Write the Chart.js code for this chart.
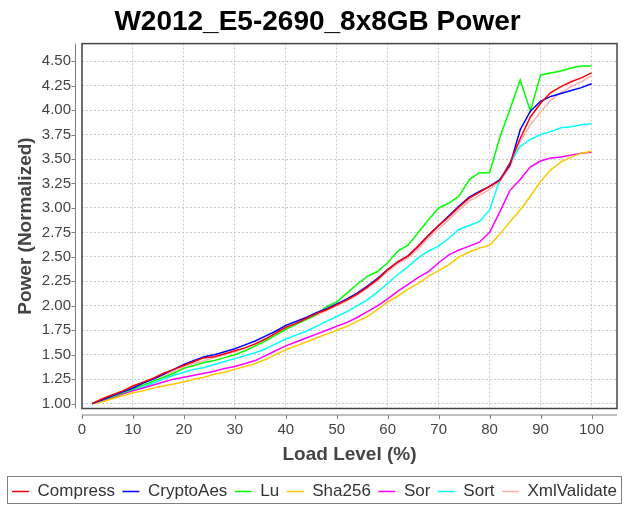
<!DOCTYPE html>
<html>
<head>
<meta charset="utf-8">
<script src="https://cdn.jsdelivr.net/npm/chart.js@4.4.1/dist/chart.umd.min.js"></script>
<style>
  html, body { margin: 0; padding: 0; background: #fff; }
</style>
</head>
<body>
<canvas id="chart" width="629" height="505"></canvas>
<script>
const loadLevels = [2, 4, 6, 8, 10, 12, 14, 16, 18, 20, 22, 24, 26, 28, 30, 32, 34, 36, 38, 40,
    42, 44, 46, 48, 50, 52, 54, 56, 58, 60, 62, 64, 66, 68, 70, 72, 74, 76, 78, 80,
    82, 84, 86, 88, 90, 92, 94, 96, 98, 100];

const compress = [1.00, 1.05, 1.09, 1.13, 1.18, 1.22, 1.26, 1.31, 1.35, 1.39, 1.43, 1.47, 1.48, 1.51, 1.54, 1.57, 1.61, 1.66, 1.72, 1.78,
    1.82, 1.87, 1.92, 1.96, 2.01, 2.06, 2.12, 2.19, 2.27, 2.37, 2.45, 2.51, 2.61, 2.72, 2.82, 2.91, 3.01, 3.10, 3.16, 3.22,
    3.28, 3.46, 3.71, 3.93, 4.07, 4.18, 4.24, 4.29, 4.33, 4.38];
const cryptoAes = [1.00, 1.04, 1.08, 1.12, 1.16, 1.21, 1.25, 1.30, 1.35, 1.40, 1.44, 1.48, 1.50, 1.53, 1.56, 1.60, 1.64, 1.69, 1.74, 1.80,
    1.84, 1.88, 1.93, 1.97, 2.02, 2.07, 2.13, 2.20, 2.28, 2.37, 2.45, 2.51, 2.61, 2.72, 2.82, 2.92, 3.02, 3.11, 3.17, 3.22,
    3.29, 3.44, 3.80, 3.99, 4.09, 4.14, 4.17, 4.20, 4.23, 4.27];
const lu = [1.00, 1.04, 1.07, 1.11, 1.15, 1.19, 1.23, 1.27, 1.31, 1.36, 1.39, 1.42, 1.44, 1.47, 1.50, 1.54, 1.59, 1.64, 1.70, 1.76,
    1.81, 1.86, 1.91, 1.99, 2.04, 2.13, 2.22, 2.30, 2.35, 2.44, 2.56, 2.62, 2.75, 2.88, 3.00, 3.05, 3.12, 3.29, 3.36, 3.36,
    3.72, 4.01, 4.31, 3.99, 4.36, 4.38, 4.40, 4.43, 4.45, 4.45];
const sha256 = [1.00, 1.02, 1.05, 1.08, 1.11, 1.13, 1.16, 1.18, 1.20, 1.22, 1.25, 1.27, 1.30, 1.32, 1.35, 1.38, 1.41, 1.45, 1.50, 1.55,
    1.59, 1.63, 1.67, 1.71, 1.75, 1.79, 1.84, 1.89, 1.96, 2.04, 2.10, 2.17, 2.23, 2.30, 2.36, 2.42, 2.50, 2.55, 2.59, 2.62,
    2.73, 2.86, 2.98, 3.12, 3.27, 3.39, 3.47, 3.52, 3.56, 3.58];
const sor = [1.00, 1.03, 1.06, 1.10, 1.13, 1.16, 1.19, 1.22, 1.25, 1.27, 1.29, 1.31, 1.33, 1.36, 1.38, 1.41, 1.44, 1.49, 1.54, 1.59,
    1.63, 1.67, 1.71, 1.75, 1.79, 1.83, 1.88, 1.94, 2.00, 2.07, 2.15, 2.22, 2.29, 2.35, 2.44, 2.52, 2.57, 2.61, 2.65, 2.75,
    2.96, 3.18, 3.29, 3.42, 3.48, 3.51, 3.52, 3.54, 3.56, 3.57];
const sort = [1.00, 1.03, 1.07, 1.10, 1.14, 1.17, 1.21, 1.25, 1.29, 1.32, 1.35, 1.37, 1.40, 1.43, 1.46, 1.49, 1.52, 1.56, 1.61, 1.66,
    1.70, 1.74, 1.79, 1.84, 1.89, 1.94, 2.00, 2.06, 2.14, 2.23, 2.32, 2.40, 2.49, 2.56, 2.61, 2.69, 2.78, 2.82, 2.86, 2.98,
    3.29, 3.46, 3.63, 3.70, 3.75, 3.78, 3.82, 3.83, 3.85, 3.86];
const xmlValidate = [1.00, 1.04, 1.08, 1.12, 1.17, 1.21, 1.25, 1.29, 1.33, 1.37, 1.41, 1.44, 1.47, 1.50, 1.53, 1.57, 1.61, 1.66, 1.71, 1.76,
    1.81, 1.86, 1.90, 1.95, 2.00, 2.05, 2.11, 2.18, 2.26, 2.35, 2.43, 2.49, 2.58, 2.69, 2.79, 2.88, 2.98, 3.07, 3.13, 3.19,
    3.27, 3.42, 3.68, 3.85, 3.98, 4.10, 4.18, 4.24, 4.29, 4.35];

const xTicks = [0, 10, 20, 30, 40, 50, 60, 70, 80, 90, 100];
const yTicks = [1.00, 1.25, 1.50, 1.75, 2.00, 2.25, 2.50, 2.75, 3.00, 3.25, 3.50, 3.75, 4.00, 4.25, 4.50];

const font = "'Liberation Sans', Arial, sans-serif";
Chart.defaults.font.family = font;

const series = [
    ["Compress", compress, "#ff0000"],
    ["CryptoAes", cryptoAes, "#0000ff"],
    ["Lu", lu, "#00ff00"],
    ["Sha256", sha256, "#ffc800"],
    ["Sor", sor, "#ff00ff"],
    ["Sort", sort, "#00ffff"],
    ["XmlValidate", xmlValidate, "#ffafaf"],
];

// plot outline, offset axis lines and the legend box
const decorations = {
    id: "decorations",
    afterLayout(chart) {
        const t = chart.titleBlock;
        t.left += 3;
        t.right += 3;
        const lg = chart.legend;
        lg.top += 5;
        lg.bottom += 5;
        lg.legendHitBoxes.forEach((h) => { h.top += 5; });
    },
    afterDraw(chart) {
        const c = chart.ctx;
        const a = chart.chartArea;
        const xs = chart.scales.x;
        const ys = chart.scales.y;
        c.save();
        c.strokeStyle = "#808080";
        c.lineWidth = 1;
        c.beginPath();
        const ax = a.left - 6.5;
        c.moveTo(ax, a.top);
        c.lineTo(ax, a.bottom);
        yTicks.forEach((v) => {
            const p = Math.round(ys.getPixelForValue(v)) + 0.5;
            c.moveTo(ax, p);
            c.lineTo(ax - 4, p);
        });
        const ay = a.bottom + 6.5;
        c.moveTo(a.left, ay);
        c.lineTo(a.right, ay);
        xTicks.forEach((v) => {
            const p = Math.round(xs.getPixelForValue(v)) + 0.5;
            c.moveTo(p, ay);
            c.lineTo(p, ay + 4);
        });
        c.stroke();

        c.strokeStyle = "#444";
        c.lineWidth = 1.5;
        c.strokeRect(a.left, a.top, a.right - a.left, a.bottom - a.top);

        const hb = chart.legend.legendHitBoxes;
        const last = hb[hb.length - 1];
        c.strokeStyle = "#808080";
        c.lineWidth = 1;
        const l = Math.round(hb[0].left) - 4.5;
        const r = Math.round(last.left + last.width) + 4.5;
        const top = Math.round(hb[0].top) - 11.5;
        c.strokeRect(l, top, r - l, 27);
        c.restore();
    },
};

new Chart(document.getElementById("chart"), {
    type: "line",
    data: {
        datasets: series.map(([label, values, color]) => ({
            label,
            data: values.map((y, i) => ({ x: loadLevels[i], y })),
            borderColor: color,
            backgroundColor: color,
            borderWidth: 1.5,
            pointRadius: 0,
            tension: 0,
            fill: false,
        })),
    },
    options: {
        responsive: false,
        animation: false,
        devicePixelRatio: 1,
        layout: { padding: 0 },
        scales: {
            x: {
                type: "linear",
                min: 0,
                max: 105,
                afterBuildTicks: (s) => { s.ticks = xTicks.map((v) => ({ value: v })); },
                afterFit: (s) => { s.height = 62; },
                grid: { color: "#c8c8c8", lineWidth: 1, drawTicks: false },
                border: { display: false, dash: [2, 2] },
                ticks: { color: "#444", font: { size: 15 }, padding: 12, maxRotation: 0 },
                title: {
                    display: true,
                    text: "Load Level (%)",
                    color: "#444",
                    font: { size: 19, weight: "bold" },
                    padding: { top: 0, bottom: 4 },
                },
            },
            y: {
                type: "linear",
                min: 0.95,
                max: 4.68,
                afterBuildTicks: (s) => { s.ticks = yTicks.map((v) => ({ value: v })); },
                afterFit: (s) => { s.width = 82; },
                grid: { color: "#c8c8c8", lineWidth: 1, drawTicks: false },
                border: { display: false, dash: [2, 2] },
                ticks: { color: "#444", font: { size: 15 }, padding: 11, callback: (v) => v.toFixed(2) },
                title: {
                    display: true,
                    text: "Power (Normalized)",
                    color: "#444",
                    font: { size: 19, weight: "bold" },
                    padding: { top: 14, bottom: 0 },
                },
            },
            // empty right-hand strip so the plot stops short of the canvas edge
            right: {
                position: "right",
                display: true,
                afterFit: (s) => { s.width = 12; },
                grid: { display: false },
                border: { display: false },
                ticks: { display: false },
            },
        },
        plugins: {
            title: {
                display: true,
                text: "W2012_E5-2690_8x8GB Power",
                color: "#000",
                font: { size: 28, weight: "bold" },
                padding: { top: 5, bottom: 5 },
            },
            legend: {
                position: "bottom",
                labels: {
                    usePointStyle: true,
                    pointStyle: "line",
                    pointStyleWidth: 17,
                    color: "#333",
                    font: { size: 17 },
                    padding: 7.5,
                },
            },
            tooltip: { enabled: false },
        },
    },
    plugins: [decorations],
});
</script>
</body>
</html>
